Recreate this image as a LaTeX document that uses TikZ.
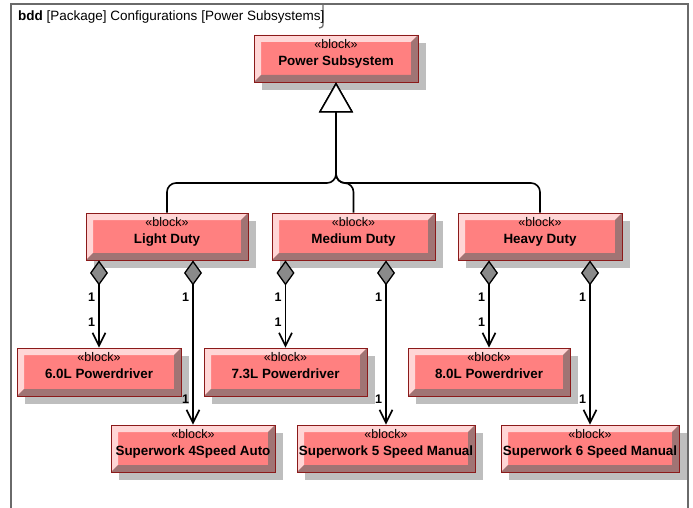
\documentclass[tikz,border=0pt]{standalone}
\usepackage{fontspec}
\setmainfont{Liberation Sans}
\usetikzlibrary{arrows.meta,shadows}
\definecolor{face}{HTML}{FF8080}
\definecolor{bdr}{HTML}{8B1A1A}
\definecolor{bevL}{HTML}{FFD6D6}
\definecolor{bevD}{HTML}{A07474}
\definecolor{shad}{HTML}{BEBEBE}
\definecolor{diag}{HTML}{8A8A8A}
\definecolor{frm}{HTML}{6A6A6A}
\newcommand\blkname[1]{{\fontsize{13.4pt}{17pt}\selectfont\bfseries #1}}
\tikzset{
  blk/.style={draw=bdr, line width=0.9pt, fill=face, minimum height=47pt,
    inner sep=0pt, align=center, text depth=13pt,
    font=\fontsize{12.5pt}{17pt}\selectfont,
    general shadow={fill=shad, shadow xshift=8pt, shadow yshift=-8pt},
    path picture={
      \fill[bevL] (path picture bounding box.south west) -- (path picture bounding box.north west) -- (path picture bounding box.north east) -- ([shift={(-7pt,-7pt)}]path picture bounding box.north east) -- ([shift={(7pt,-7pt)}]path picture bounding box.north west) -- ([shift={(7pt,7pt)}]path picture bounding box.south west) -- cycle;
      \fill[bevD] (path picture bounding box.south west) -- (path picture bounding box.south east) -- (path picture bounding box.north east) -- ([shift={(-7pt,-7pt)}]path picture bounding box.north east) -- ([shift={(-7pt,7pt)}]path picture bounding box.south east) -- ([shift={(7pt,7pt)}]path picture bounding box.south west) -- cycle;
    }},
  comp/.style={line width=1.6pt,
    {Diamond[length=25pt,width=18pt,fill=diag,line width=1.3pt]}-{Straight Barb[length=13pt,width=13pt]}},
  gen/.style={line width=1.6pt, rounded corners=9pt,
    -{Triangle[open,length=30pt,width=34pt,fill=white,line width=1.4pt]}},
  mult/.style={font=\fontsize{12.5pt}{14pt}\selectfont\bfseries, inner sep=0pt},
  frame/.style={draw=frm, line width=1.3pt},
  ttl/.style={font=\fontsize{13.5pt}{16pt}\selectfont, inner sep=0pt, anchor=west}
}
\begin{document}
\begin{tikzpicture}[x=1pt,y=-1pt]
\useasboundingbox (0,0) rectangle (693,508);
\fill[white] (0,0) rectangle (693,508);
% frame
\draw[frame] (11,4) rectangle (688,540);
\draw[frame] (323,4) -- (323,23) .. controls (323,27) .. (319,28);
\node[ttl] (title) at (18,17) {\textbf{bdd} [Package] Configurations [Power Subsystems]};

% blocks
\node[blk, minimum width=164pt] (ps) at (336,58.5) {«block»\\\blkname{Power Subsystem}};
\node[blk, minimum width=162pt] (ld) at (167,236.5) {«block»\\\blkname{Light Duty}};
\node[blk, minimum width=163pt] (md) at (353.5,236.5) {«block»\\\blkname{Medium Duty}};
\node[blk, minimum width=164pt] (hd) at (540,236.5) {«block»\\\blkname{Heavy Duty}};
\node[blk, minimum width=164pt, minimum height=48pt] (p60) at (99,372) {«block»\\\blkname{6.0L Powerdriver}};
\node[blk, minimum width=163pt, minimum height=48pt] (p73) at (285.5,372) {«block»\\\blkname{7.3L Powerdriver}};
\node[blk, minimum width=162pt, minimum height=48pt] (p80) at (489,372) {«block»\\\blkname{8.0L Powerdriver}};
\node[blk, minimum width=164pt] (s4) at (193,448.5) {«block»\\\blkname{Superwork 4Speed Auto}};
\node[blk, minimum width=178pt] (s5) at (386,448.5) {«block»\\\blkname{Superwork 5 Speed Manual}};
\node[blk, minimum width=178pt] (s6) at (590,448.5) {«block»\\\blkname{Superwork 6 Speed Manual}};

% generalization
\coordinate (fork) at (336,183);
\draw[gen] (ld.north) |- (fork) -- (ps.south);
\draw[gen] (md.north) |- (fork) -- (ps.south);
\draw[gen] (hd.north) |- (fork) -- (ps.south);

% compositions
\draw[comp] (ld.south -| p60.north) -- (p60.north);
\draw[comp] (ld.south -| s4.north) -- (s4.north);
\draw[comp] (md.south -| p73.north) -- (p73.north);
\draw[comp] (md.south -| s5.north) -- (s5.north);
\draw[comp] (hd.south -| p80.north) -- (p80.north);
\draw[comp] (hd.south -| s6.north) -- (s6.north);

% multiplicities
\node[mult] (m1a) at (91.5,297) {1};
\node[mult] (m1b) at (91.5,322) {1};
\node[mult] (m2a) at (185.5,297) {1};
\node[mult] (m2b) at (185.5,399) {1};
\node[mult] (m3a) at (278,297) {1};
\node[mult] (m3b) at (278,322) {1};
\node[mult] (m4a) at (378.5,297) {1};
\node[mult] (m4b) at (378.5,399) {1};
\node[mult] (m5a) at (481.5,297) {1};
\node[mult] (m5b) at (481.5,322) {1};
\node[mult] (m6a) at (582.5,297) {1};
\node[mult] (m6b) at (582.5,399) {1};
\end{tikzpicture}
\end{document}
